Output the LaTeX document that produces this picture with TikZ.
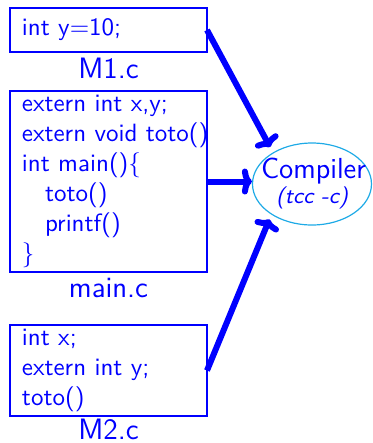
\documentclass[tikz,border=0pt]{standalone}
\usetikzlibrary{shapes.geometric,calc,arrows.meta}
\definecolor{codeblue}{RGB}{0,0,255}
\definecolor{ellcyan}{RGB}{30,170,230}
\begin{document}
\begin{tikzpicture}[x=0.4pt,y=-0.4pt,
  codebox/.style={draw=codeblue, line width=0.52pt, anchor=north west, align=left,
    text=codeblue, font=\sffamily\fontsize{10}{12}\selectfont,
    inner xsep=4.8pt, inner ysep=0pt, outer sep=0pt, text width=69.2pt},
  lbl/.style={anchor=base, text=codeblue, font=\sffamily\fontsize{11.8}{12}\selectfont, inner sep=0pt},
  arr/.style={draw=codeblue, line width=2.4pt, -{To[length=4pt,width=10.4pt]}},
  ]
\useasboundingbox (0,0) rectangle (373,443);
\node[codebox, minimum height=17.6pt] (m1) at (10,8) {int y=10;};
\node[lbl] (m1l) at ($(m1.south)+(0,26)$) {M1.c};
\node[codebox, minimum height=72.4pt] (main) at (10,91)
  {\mbox{extern int x,y;}\\\mbox{extern void toto()}\\\mbox{int main()\{}\\\hspace*{9.2pt}toto()\\\hspace*{9.2pt}printf()\\\}};
\node[lbl] (mainl) at ($(main.south)+(0,25)$) {main.c};
\node[codebox, minimum height=36.4pt] (m2) at (10,325)
  {int x;\\\mbox{extern int y;}\\toto()};
\node[lbl] (m2l) at ($(m2.south)+(0,23.5)$) {M2.c};
\node[ellipse, draw=ellcyan, line width=0.48pt, minimum width=47.6pt, minimum height=32.8pt,
  inner xsep=-5.6pt, inner ysep=-0.8pt, text=codeblue, align=center, font=\sffamily\fontsize{11.6}{10}\selectfont]
  (comp) at (312,184) {\hspace*{1.2pt}Compiler\\{\fontsize{8.9}{10}\selectfont\itshape (tcc -c)}};
\draw[arr, shorten >=2.4pt] (m1.east) -- (comp.141);
\draw[arr] (main.east) -- (main.east -| comp.west);
\draw[arr, shorten >=2pt] (m2.east) -- (comp.217);
\end{tikzpicture}
\end{document}
